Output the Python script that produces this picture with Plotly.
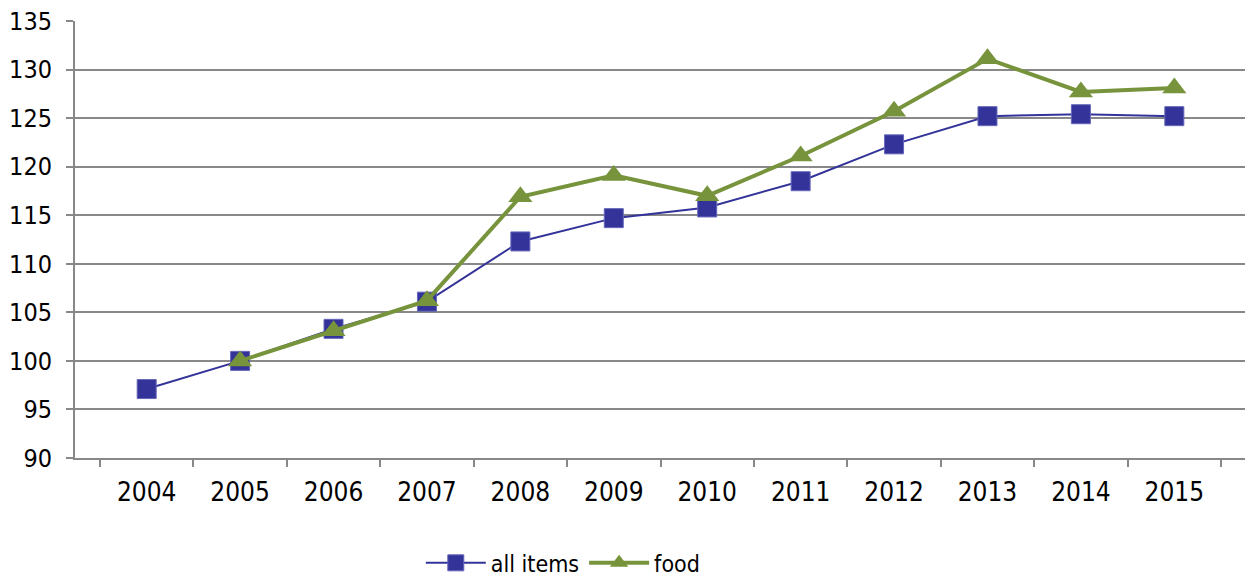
import plotly.graph_objects as go

years = ["2004", "2005", "2006", "2007", "2008", "2009", "2010", "2011", "2012", "2013", "2014", "2015"]
all_items = [97.1, 100.0, 103.3, 106.1, 112.3, 114.7, 115.8, 118.5, 122.3, 125.2, 125.4, 125.2]
food = [None, 100.0, 103.1, 106.2, 116.9, 119.1, 117.0, 121.1, 125.7, 131.1, 127.7, 128.1]
y_ticks = [90, 95, 100, 105, 110, 115, 120, 125, 130, 135]

FONT = "DejaVu Sans Condensed, Liberation Sans, sans-serif"

fig = go.Figure()
fig.add_trace(go.Scatter(
    x=years, y=all_items, name="all items", mode="lines+markers",
    line=dict(color="#333399", width=2),
    marker=dict(symbol="square", size=19, color="#333399",
                line=dict(color="#6666bb", width=1)),
))
fig.add_trace(go.Scatter(
    x=years, y=food, name="food", mode="lines+markers",
    line=dict(color="#77933C", width=4),
    marker=dict(symbol="triangle-up", size=21, color="#77933C"),
    connectgaps=False,
))

fig.update_layout(
    width=1253, height=579,
    paper_bgcolor="white", plot_bgcolor="white",
    margin=dict(l=67, r=15, t=13, b=129, autoexpand=False),
    font=dict(family=FONT, size=26, color="#000000"),
    showlegend=True,
    legend=dict(orientation="h", x=0.417, y=-0.24, xanchor="center", yanchor="middle",
                font=dict(family=FONT, size=23), itemwidth=60, bgcolor="rgba(0,0,0,0)"),
)
fig.update_xaxes(
    type="category", tickson="boundaries", ticks="outside", ticklen=7,
    tickcolor="#888888", tickwidth=2,
    showline=True, linecolor="#888888", linewidth=2,
    showgrid=False, tickfont=dict(family=FONT, size=26),
    ticklabelstandoff=10,
)
fig.update_yaxes(
    range=[90, 135], tickvals=y_ticks, ticks="outside", ticklen=7,
    tickcolor="#888888", tickwidth=2,
    showline=True, linecolor="#888888", linewidth=2, mirror=True,
    showgrid=True, gridcolor="#888888", gridwidth=2, zeroline=False,
    tickfont=dict(family=FONT, size=25), ticklabeloverflow="allow",
    ticklabelstandoff=9,
)

fig.write_html("out.html")
